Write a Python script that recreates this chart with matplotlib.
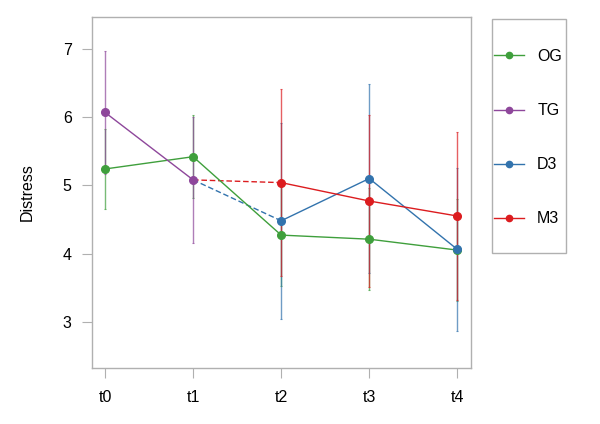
import matplotlib
matplotlib.use("Agg")
import matplotlib.pyplot as plt
from matplotlib.lines import Line2D
from matplotlib.patches import Rectangle
import numpy as np

plt.rcParams['font.family'] = ['Liberation Sans', 'DejaVu Sans']

times = ["t0", "t1", "t2", "t3", "t4"]
groups = ["OG", "TG", "D3", "M3"]
colors = {"OG": "#3f9f3c", "TG": "#8e479b", "D3": "#3273ad", "M3": "#dc1c1f"}

og_mean = [5.24, 5.42, 4.27, 4.21, 4.05]
og_err = [0.59, 0.61, 0.75, 0.75, 0.75]
tg_mean = [6.07, 5.08, np.nan, np.nan, np.nan]
tg_err = [0.90, 0.92, np.nan, np.nan, np.nan]
d3_mean = [np.nan, 5.08, 4.48, 5.10, 4.06]
d3_err = [np.nan, np.nan, 1.44, 1.39, 1.20]
m3_mean = [np.nan, 5.08, 5.04, 4.77, 4.55]
m3_err = [np.nan, np.nan, 1.37, 1.26, 1.23]

fig = plt.figure(figsize=(6, 4.24), dpi=100)
ax = fig.add_axes([0.153, 0.132, 0.632, 0.828])
x = np.arange(len(times))

series = {"OG": (og_mean, og_err), "TG": (tg_mean, tg_err),
          "D3": (d3_mean, d3_err), "M3": (m3_mean, m3_err)}

for g in groups:
    m, e = series[g]
    ax.errorbar(x, m, yerr=e, fmt='none', ecolor=colors[g], elinewidth=1.0,
                capsize=1, capthick=0.8, alpha=0.7, zorder=2)

for g in groups:
    m, e = series[g]
    m = np.array(m)
    if g in ("D3", "M3"):
        ax.plot(x[1:3], m[1:3], color=colors[g], lw=1.0, ls=(0, (4, 2)), zorder=3)
        ax.plot(x[2:], m[2:], color=colors[g], lw=1.0, marker='o', ms=5.5, zorder=4)
    else:
        ax.plot(x, m, color=colors[g], lw=1.0, marker='o', ms=5.5, zorder=4)

ax.set_xlim(-0.15, 4.155)
ax.set_ylim(2.32, 7.47)
ax.set_xticks(x)
ax.set_xticklabels(times)
ax.set_yticks([3, 4, 5, 6, 7])
ax.set_ylabel("Distress", fontsize=11.5, labelpad=20)
for s in ax.spines.values():
    s.set_color("#b0b0b0")
    s.set_linewidth(1.0)
ax.tick_params(colors="#b0b0b0", labelcolor="black", labelsize=11.5, length=7.5, width=0.8)
ax.tick_params(axis='y', pad=7)
ax.tick_params(axis='x', pad=8)

# legend frame
fig.patches.append(Rectangle((492 / 600, 1 - 253 / 424), 74 / 600, (253 - 19) / 424,
                             transform=fig.transFigure, fill=False,
                             edgecolor="#b0b0b0", linewidth=1.0))
lh = [Line2D([], [], color=colors[g], lw=1.0, marker='o', ms=4.5) for g in groups]
leg = fig.legend(lh, groups, loc='upper left', bbox_to_anchor=(494 / 600, 1 - 49 / 424),
                 frameon=False, fontsize=11.5,
                 labelspacing=2.45, handlelength=1.9, handletextpad=0.8,
                 borderpad=0, borderaxespad=0)

fig.savefig("out.png", dpi=100)
